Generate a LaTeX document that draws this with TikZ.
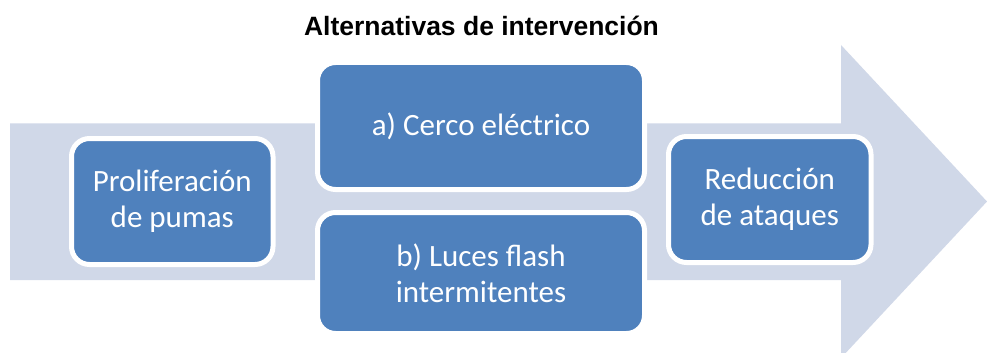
\documentclass[tikz,border=0pt]{standalone}
\usepackage{fontspec}
\setmainfont{Carlito}
\newfontfamily\titlefont{Liberation Sans}
\definecolor{boxblue}{HTML}{4F81BD}
\definecolor{bandgray}{HTML}{D0D8E8}
\tikzset{
  stage/.style={draw=white, line width=5pt, fill=boxblue, rounded corners=18pt,
    text=white, align=center, inner sep=0pt,
    font=\fontsize{31}{36}\selectfont},
}
\begin{document}
\begin{tikzpicture}[x=1pt,y=-1pt]
\useasboundingbox (0,0) rectangle (987,353);
\fill[white] (0,0) rectangle (987,353);
\begin{scope}
\clip (0,0) rectangle (987,353);
\fill[bandgray] (10,123.3) -- (841,123.3) -- (841,45) -- (987,201.5) -- (841,358) -- (841,280) -- (10,280) -- cycle;
\end{scope}
\node[anchor=base, font=\titlefont\bfseries\fontsize{26.5}{30}\selectfont] (title) at (481.5,35.7) {Alternativas de intervención};
\node[stage, minimum width=201.5pt, minimum height=126pt] (p) at (172.25,201.5) {Proliferación\\de pumas};
\node[stage, minimum width=327pt, minimum height=127pt] (a) at (481,126) {a) Cerco eléctrico};
\node[stage, minimum width=327pt, minimum height=121pt] (b) at (481,273) {b) Luces flash\\intermitentes};
\node[stage, minimum width=202.5pt, minimum height=126pt] (r) at (769.75,199.5) {Reducción\\de ataques};
\end{tikzpicture}
\end{document}
